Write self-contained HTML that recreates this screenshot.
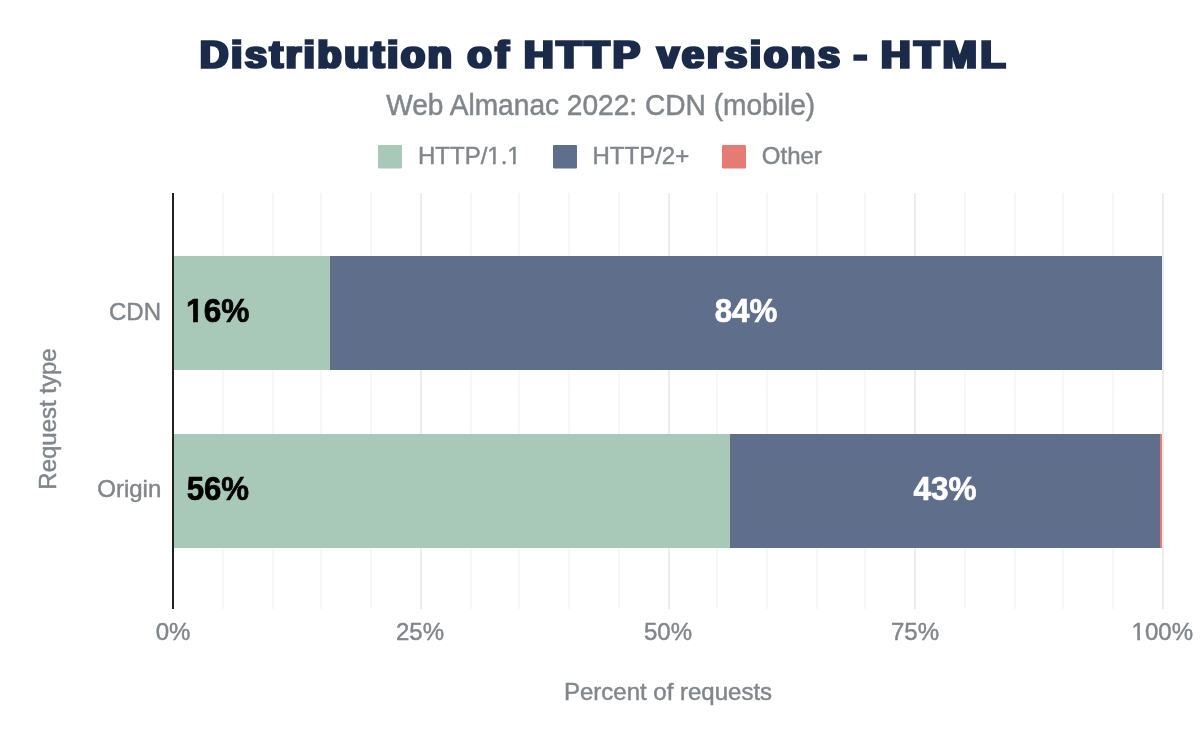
<!DOCTYPE html>
<html lang="en">
<head>
<meta charset="utf-8">
<title>Distribution of HTTP versions - HTML</title>
<style>
html,body{margin:0;padding:0;background:#fff;}
body{width:1200px;height:742px;overflow:hidden;}
svg{display:block;will-change:transform;}
text{font-family:"Liberation Sans",Arial,Helvetica,sans-serif;}
.g{fill:#80868b;font-size:24px;stroke:#80868b;stroke-width:0.45px;}
.t{font-size:39.3px;font-weight:bold;fill:#1a2b49;stroke:#1a2b49;stroke-width:1.7px;filter:url(#fat);}
.b{font-size:34px;font-weight:bold;stroke-width:0.7px;}
</style>
</head>
<body>
<svg width="1200" height="742" viewBox="0 0 1200 742">
  <defs><filter id="fat" x="-5%" y="-5%" width="110%" height="110%"><feMorphology operator="dilate" radius="0.7 0"/></filter></defs>
  <rect x="0" y="0" width="1200" height="742" fill="#fff"/>
  <!-- title -->
  <g>
  <text transform="translate(200.00 67.5) scale(1.0 1)" letter-spacing="2.85" class="t">Distribution</text>
  <text transform="translate(467.50 67.5) scale(1.0 1)" letter-spacing="4.00" class="t">of</text>
  <text transform="translate(524.00 67.5) scale(1.04 1)" letter-spacing="2.96" class="t">HTTP</text>
  <text transform="translate(657.25 67.5) scale(1.0 1)" letter-spacing="3.00" class="t">versions</text>
  <text transform="translate(853.75 67.5) scale(1.0 1)" letter-spacing="2.00" class="t">-</text>
  <text transform="translate(881.00 67.5) scale(1.04 1)" letter-spacing="3.54" class="t">HTML</text>
  </g>
  <text transform="translate(386.21 114.80) scale(0.9532 1)" font-size="29.5" fill="#80868b" stroke="#80868b" stroke-width="0.5">Web Almanac 2022: CDN (mobile)</text>
  <!-- legend -->
  <rect x="378" y="145" width="24" height="23.5" rx="1.3" fill="#a8c9b8"/>
  <text class="g" x="418" y="163.7">HTTP/1.1</text>
  <rect x="553" y="145" width="24" height="23.5" rx="1.3" fill="#5f6e8a"/>
  <text class="g" x="592.5" y="163.7">HTTP/2+</text>
  <rect x="722" y="145" width="24" height="23.5" rx="1.3" fill="#e57c73"/>
  <text class="g" x="761.8" y="163.7">Other</text>
  <g fill="#fff">
    <rect x="488" y="161.7" width="5" height="3.6"/>
    <rect x="495.7" y="161.7" width="4.5" height="3.6"/>
    <rect x="508" y="161.7" width="5" height="3.6"/>
    <rect x="515.7" y="161.7" width="4.5" height="3.6"/>
  </g>
  <!-- minor gridlines -->
  <g fill="#f7f7f7">
    <rect x="222" y="193" width="2" height="416"/>
    <rect x="272" y="193" width="2" height="416"/>
    <rect x="320" y="193" width="2" height="416"/>
    <rect x="370" y="193" width="2" height="416"/>
    <rect x="470" y="193" width="2" height="416"/>
    <rect x="518" y="193" width="2" height="416"/>
    <rect x="568" y="193" width="2" height="416"/>
    <rect x="618" y="193" width="2" height="416"/>
    <rect x="716" y="193" width="2" height="416"/>
    <rect x="766" y="193" width="2" height="416"/>
    <rect x="816" y="193" width="2" height="416"/>
    <rect x="864" y="193" width="2" height="416"/>
    <rect x="964" y="193" width="2" height="416"/>
    <rect x="1014" y="193" width="2" height="416"/>
    <rect x="1062" y="193" width="2" height="416"/>
    <rect x="1112" y="193" width="2" height="416"/>
  </g>
  <g fill="#ededed">
    <rect x="420" y="193" width="2" height="416"/>
    <rect x="668" y="193" width="2" height="416"/>
    <rect x="914" y="193" width="2" height="416"/>
    <rect x="1162" y="193" width="2" height="416"/>
  </g>
  <!-- bars -->
  <rect x="173" y="256" width="157" height="114" fill="#a8c9b8"/>
  <rect x="330" y="256" width="832" height="114" fill="#5f6e8a"/>
  <rect x="173" y="434" width="557" height="114" fill="#a8c9b8"/>
  <rect x="730" y="434" width="430" height="114" fill="#5f6e8a"/>
  <rect x="1160" y="434" width="2" height="114" fill="#e57c73"/>
  <!-- axis -->
  <rect x="172" y="193" width="2" height="416" fill="#212121"/>
  <!-- bar labels -->
  <text transform="translate(186.08 322.05) scale(0.9311 1)" class="b" fill="#000" stroke="#000">16%</text>
  <text transform="translate(714.65 322.05) scale(0.9209 1)" class="b" fill="#fff" stroke="#fff">84%</text>
  <text transform="translate(186.64 500.05) scale(0.9180 1)" class="b" fill="#000" stroke="#000">56%</text>
  <text transform="translate(913.39 500.05) scale(0.9280 1)" class="b" fill="#fff" stroke="#fff">43%</text>
  <!-- trim the base serif of Liberation's "1" so it reads like Helvetica -->
  <rect x="185" y="317.4" width="8.1" height="6" fill="#a8c9b8"/>
  <rect x="197.9" y="317.4" width="6.6" height="6" fill="#a8c9b8"/>
  <!-- y labels -->
  <text class="g" x="161" y="319.8" text-anchor="end">CDN</text>
  <text class="g" x="161.3" y="497" text-anchor="end">Origin</text>
  <text class="g" transform="translate(56.1 419) rotate(-90)" text-anchor="middle">Request type</text>
  <!-- x labels -->
  <text class="g" x="173" y="640.4" text-anchor="middle">0%</text>
  <text class="g" x="420" y="640.4" text-anchor="middle">25%</text>
  <text class="g" x="668" y="640.4" text-anchor="middle">50%</text>
  <text class="g" x="915" y="640.4" text-anchor="middle">75%</text>
  <text class="g" x="1162.3" y="640.4" text-anchor="middle">100%</text>
  <g fill="#fff">
    <rect x="1132.3" y="637.7" width="5" height="3.6"/>
    <rect x="1140" y="637.7" width="4.5" height="3.6"/>
  </g>
  <text class="g" x="668" y="699.6" text-anchor="middle">Percent of requests</text>
</svg>
</body>
</html>
